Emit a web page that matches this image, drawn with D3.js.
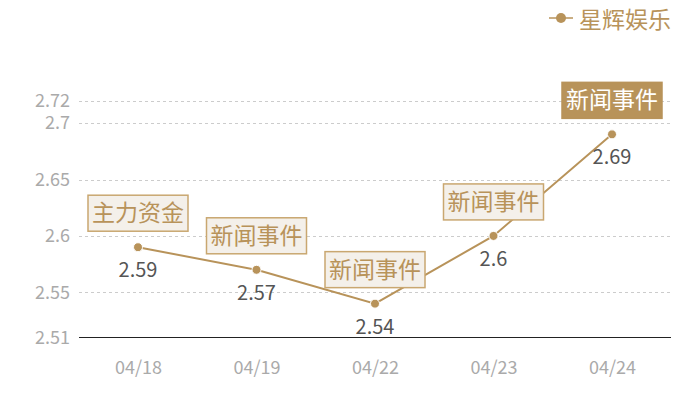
<!DOCTYPE html>
<html>
<head>
<meta charset="utf-8">
<script src="https://cdn.jsdelivr.net/npm/d3@7"></script>
<style>
  body { margin: 0; background: #fff; }
  text { font-family: "Noto Sans CJK SC", "Noto Sans", sans-serif; }
</style>
</head>
<body>
<div id="chart"></div>
<script>
// 데이터
const dates = ["04/18", "04/19", "04/22", "04/23", "04/24"];
const values = [2.59, 2.57, 2.54, 2.6, 2.69];
const events = ["主力资金", "新闻事件", "新闻事件", "新闻事件", "新闻事件"];
const yTicks = [2.51, 2.55, 2.6, 2.65, 2.7, 2.72];
const seriesName = "星辉娱乐";

const gold = "#b8935a";

const svg = d3.select("#chart").append("svg")
    .attr("width", 700)
    .attr("height", 400)
    .style("background-color", "white");

const x = d3.scalePoint().domain(dates).range([138, 612]);
const y = d3.scaleLinear().domain([2.51, 2.72]).range([337.5, 100.5]);

// 격자선
svg.selectAll("line.grid")
    .data(yTicks.filter(d => d !== 2.51))
    .enter()
    .append("line")
    .attr("class", "grid")
    .attr("x1", 79).attr("x2", 671)
    .attr("y1", d => Math.round(y(d)) + 0.5).attr("y2", d => Math.round(y(d)) + 0.5)
    .style("stroke", "#ccc")
    .style("stroke-dasharray", "3,3");

// y축
const yAxis = svg.append("g")
    .attr("transform", "translate(79,0)")
    .call(d3.axisLeft(y).tickValues(yTicks).tickFormat(d => String(d)).tickSize(0).tickPadding(9));
yAxis.select(".domain").remove();
yAxis.selectAll("text").style("fill", "#aaa").style("font-size", "18px");

// x축
const xAxis = svg.append("g")
    .attr("transform", "translate(0,337.5)")
    .call(d3.axisBottom(x).tickSize(0).tickPadding(24));
xAxis.select(".domain").attr("d", "M79,0H671").style("stroke", "#222").style("stroke-width", 1);
xAxis.selectAll("text").style("fill", "#aaa").style("font-size", "18px");

// 선
const line = d3.line().x((d, i) => x(dates[i])).y(d => y(d));
svg.append("path")
    .datum(values)
    .attr("d", line)
    .style("fill", "none")
    .style("stroke", gold)
    .style("stroke-width", 2);

svg.selectAll("circle.pt")
    .data(values)
    .enter()
    .append("circle")
    .attr("class", "pt")
    .attr("cx", (d, i) => x(dates[i]))
    .attr("cy", d => y(d))
    .attr("r", 4.5)
    .style("fill", gold)
    .style("stroke", "#fff")
    .style("stroke-width", 1);

// 값 라벨
svg.selectAll("text.val")
    .data(values)
    .enter()
    .append("text")
    .attr("class", "val")
    .attr("x", (d, i) => x(dates[i]))
    .attr("y", d => y(d) + 30)
    .attr("text-anchor", "middle")
    .style("fill", "#555")
    .style("font-size", "20px")
    .text(d => String(d));

// 이벤트 라벨
const tags = svg.selectAll("g.tag")
    .data(values)
    .enter()
    .append("g")
    .attr("class", "tag")
    .attr("transform", (d, i) => `translate(${x(dates[i])},${y(d) - 34})`);

tags.append("rect")
    .attr("x", -50).attr("y", -18)
    .attr("width", 100).attr("height", 36)
    .style("fill", (d, i) => i === values.length - 1 ? gold : "#f4f0ea")
    .style("stroke", (d, i) => i === values.length - 1 ? gold : "#c9a770")
    .style("stroke-width", 1.5);

tags.append("text")
    .attr("y", 8)
    .attr("text-anchor", "middle")
    .style("fill", (d, i) => i === values.length - 1 ? "#fff" : gold)
    .style("font-size", "23px")
    .text((d, i) => events[i]);

// 범례
const legend = svg.append("g").attr("transform", "translate(561,18)");
legend.append("line")
    .attr("x1", -12).attr("x2", 12)
    .style("stroke", gold)
    .style("stroke-width", 1.5);
legend.append("circle").attr("r", 5).style("fill", gold);
legend.append("text")
    .attr("x", 18).attr("y", 10)
    .style("fill", gold)
    .style("font-size", "23px")
    .text(seriesName);
</script>
</body>
</html>
